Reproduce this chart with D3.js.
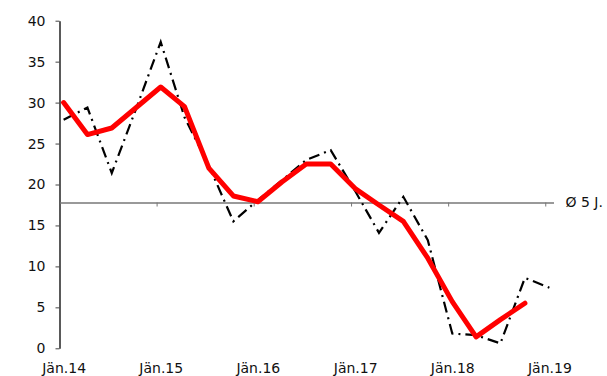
<!DOCTYPE html>
<html>
<head>
<meta charset="utf-8">
<script src="https://cdn.jsdelivr.net/npm/d3@7/dist/d3.min.js"></script>
<style>
  html, body { margin: 0; padding: 0; background: #fff; }
  svg { display: block; }
  .tick text, .avg-label { font-family: "DejaVu Sans", sans-serif; font-size: 14px; fill: #111; }
</style>
</head>
<body>
<svg id="chart" width="607" height="376"></svg>
<script>
// Quarterly observations (month of each point), 2014 – 2019
const months = [
  "2014-01","2014-04","2014-07","2014-10",
  "2015-01","2015-04","2015-07","2015-10",
  "2016-01","2016-04","2016-07","2016-10",
  "2017-01","2017-04","2017-07","2017-10",
  "2018-01","2018-04","2018-07","2018-10",
  "2019-01"
];
// Quarterly values (dash-dot line)
const quarterValues = [
  27.9, 29.4, 21.4, 29.3,
  37.4, 28.2, 22.3, 15.5,
  18.1, 20.5, 23.0, 24.2,
  19.2, 14.1, 18.5, 13.2,
  1.8, 1.6, 0.6, 8.6,
  7.4
];
// Smoothed trend (thick red line)
const trendValues = [
  30.0, 26.1, 26.9, 29.4,
  31.9, 29.5, 22.0, 18.6,
  17.9, 20.3, 22.5, 22.5,
  19.5, 17.5, 15.5, 11.0,
  5.7, 1.4, 3.5, 5.5
];
// Five-year average (reference line)
const fiveYearAvg = 17.8;
const avgLabel = "Ø 5 J.";
const yTicks = [0, 5, 10, 15, 20, 25, 30, 35, 40];
const yearLabels = ["Jän.14", "Jän.15", "Jän.16", "Jän.17", "Jän.18", "Jän.19"];

const parseMonth = d3.timeParse("%Y-%m");
// place each point in the middle of its month
const midMonth = m => {
  const s = parseMonth(m);
  const e = d3.timeMonth.offset(s, 1);
  return new Date((s.getTime() + e.getTime()) / 2);
};

const svg = d3.select("#chart");

const x = d3.scaleTime()
  .domain([parseMonth("2014-01"), parseMonth("2019-02")])
  .range([59.5, 553.5]);

const y = d3.scaleLinear()
  .domain([0, 40])
  .range([348.3, 20.7]);

// Y axis
const yAxis = svg.append("g")
  .attr("transform", "translate(59.5,0)")
  .call(d3.axisLeft(y).tickValues(yTicks).tickSize(4).tickSizeOuter(0).tickPadding(10));
yAxis.select(".domain").attr("stroke", "#000").attr("stroke-width", 1.3);
yAxis.selectAll(".tick line").attr("stroke", "#444");

// Average reference line doubling as the time axis
const yearStarts = yearLabels.map((_, i) => parseMonth((2014 + i) + "-01"));
const avgAxis = svg.append("g")
  .attr("transform", `translate(0,${y(fiveYearAvg)})`)
  .call(d3.axisBottom(x).tickValues(yearStarts.slice(1)).tickSize(4).tickSizeOuter(0).tickFormat(""));
avgAxis.select(".domain").attr("stroke", "#777").attr("stroke-width", 1.6);
avgAxis.selectAll(".tick line").attr("stroke", "#777");

svg.append("text")
  .attr("class", "avg-label")
  .attr("x", x.range()[1] + 12)
  .attr("y", y(fiveYearAvg))
  .attr("dy", "0.35em")
  .text(avgLabel);

// Year labels under the plot, centred on each January
const labelAxis = svg.append("g")
  .attr("transform", "translate(0,360)")
  .call(d3.axisBottom(x)
    .tickValues(yearLabels.map((_, i) => midMonth((2014 + i) + "-01")))
    .tickSize(0)
    .tickFormat((d, i) => yearLabels[i]));
labelAxis.select(".domain").remove();

// Series
const quarterData = quarterValues.map((v, i) => ({ date: midMonth(months[i]), value: v }));
const trendData = trendValues.map((v, i) => ({ date: midMonth(months[i]), value: v }));

const line = d3.line()
  .x(d => x(d.date))
  .y(d => y(d.value));

svg.append("path")
  .datum(quarterData)
  .attr("fill", "none")
  .attr("stroke", "#000")
  .attr("stroke-width", 2.2)
  .attr("stroke-dasharray", "11,5,2,5")
  .attr("d", line);

svg.append("path")
  .datum(trendData)
  .attr("fill", "none")
  .attr("stroke", "#ff0000")
  .attr("stroke-width", 5)
  .attr("stroke-linejoin", "round")
  .attr("stroke-linecap", "round")
  .attr("d", line);
</script>
</body>
</html>
